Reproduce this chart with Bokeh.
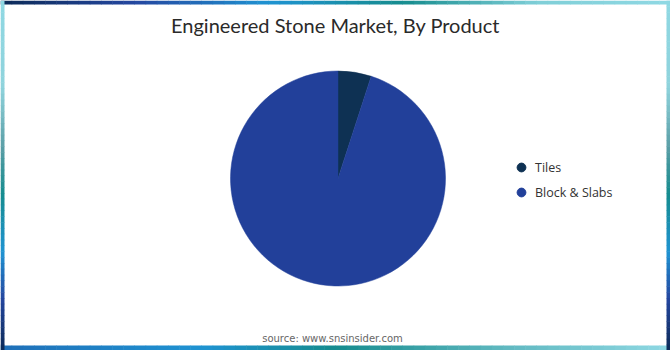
import numpy as np
from bokeh.plotting import figure
from bokeh.models import Range1d, Legend, LegendItem, ColumnDataSource
from bokeh.core.properties import value
from bokeh.embed import file_html
from bokeh.resources import INLINE

# ---- data ----
products = ["Tiles", "Block & Slabs"]
shares = [5.0, 95.0]
colors = ["#0e3153", "#22409a"]
title_text = "Engineered Stone Market, By Product"
source_text = "source: www.snsinsider.com"

W, H = 670, 350
p = figure(width=W, height=H, x_range=Range1d(0, W), y_range=Range1d(0, H),
           output_backend="svg", toolbar_location=None, min_border=0,
           background_fill_color="white", border_fill_color="white")
p.axis.visible = False
p.grid.visible = False
p.outline_line_color = None

# ---- gradient frame ----
def lerp_stops(stops, t):
    ts = [s[0] for s in stops]
    for i in range(len(stops) - 1):
        if ts[i] <= t <= ts[i + 1]:
            a, b = stops[i], stops[i + 1]
            f = (t - a[0]) / (b[0] - a[0]) if b[0] > a[0] else 0
            ca = [int(a[1][k:k + 2], 16) for k in (1, 3, 5)]
            cb = [int(b[1][k:k + 2], 16) for k in (1, 3, 5)]
            c = [round(ca[k] + (cb[k] - ca[k]) * f) for k in range(3)]
            return "#%02x%02x%02x" % tuple(c)
    return stops[-1][1]

side_stops = [(0.0, "#8fd8e3"), (0.25, "#8fd3dc"), (0.42, "#5a9ea6"), (0.55, "#168c8e"),
              (0.72, "#1f93d2"), (0.85, "#2447a0"), (1.0, "#0c2a57")]
top_stops = [(0.0, "#0c2a57"), (0.2, "#2447a0"), (0.4, "#1f93d2"), (0.6, "#168c8e"),
             (0.8, "#7fcfd8"), (1.0, "#8fd8e3")]
bot_stops = [(0.0, "#1f6fb8"), (0.3, "#1f93d2"), (0.5, "#168c8e"), (0.75, "#5fb8c0"),
             (1.0, "#8fd8e3")]

N = 60
L, R, B, T = [], [], [], []
C = []
for i in range(N):
    t = (i + 0.5) / N
    L.append(W * i / N); R.append(W * (i + 1) / N + 0.5); B.append(H - 4); T.append(H)
    C.append(lerp_stops(top_stops, t))
    L.append(W * i / N); R.append(W * (i + 1) / N + 0.5); B.append(0); T.append(5)
    C.append(lerp_stops(bot_stops, t))
    L.append(0); R.append(4); T.append(H - H * i / N); B.append(H - H * (i + 1) / N - 0.5)
    C.append(lerp_stops(side_stops, t))
    L.append(W - 4); R.append(W); T.append(H - H * i / N); B.append(H - H * (i + 1) / N - 0.5)
    C.append(lerp_stops(side_stops, t))
p.quad(left=L, right=R, bottom=B, top=T, fill_color=C, line_color=None)

# ---- pie ----
cx, cy, r = 337.5, 172.0, 107.5
vals = np.array(shares)
cum = np.concatenate([[0], np.cumsum(vals)]) / vals.sum()
start = np.pi / 2 - 2 * np.pi * cum[:-1]
end = np.pi / 2 - 2 * np.pi * cum[1:]
src = ColumnDataSource(dict(x=[cx] * len(products), y=[cy] * len(products),
                            start=list(start), end=list(end), color=colors,
                            label=products))
p.wedge(x="x", y="y", radius=r, start_angle="start", end_angle="end",
        direction="clock", fill_color="color", line_color="color", line_width=0.5,
        source=src)

# ---- legend ----
items = []
for name, col in zip(products, colors):
    rr = p.scatter(x=[np.nan], y=[np.nan], marker="circle", size=9,
                   fill_color=col, line_color=col)
    items.append(LegendItem(label=name, renderers=[rr]))
leg = Legend(items=items, location=(510, 147), orientation="vertical",
             label_text_font="Open Sans", label_text_font_size="12.5px",
             label_text_color="#333333", glyph_width=22, glyph_height=22,
             label_standoff=3, spacing=3, padding=0, margin=0,
             border_line_color=None, background_fill_alpha=0)
p.add_layout(leg, "center")

# ---- texts ----
p.text(x=[W / 2], y=[H - 24], text=[title_text], text_font=value("Lato"),
       text_font_size="20px", text_color="#2a2a2a", text_align="center",
       text_baseline="middle")
p.text(x=[332], y=[H - 338], text=[source_text], text_font=value("DejaVu Sans"),
       text_font_size="10px", text_color="#666666", text_align="center",
       text_baseline="middle")

open("out.html", "w").write(file_html(p, INLINE))
